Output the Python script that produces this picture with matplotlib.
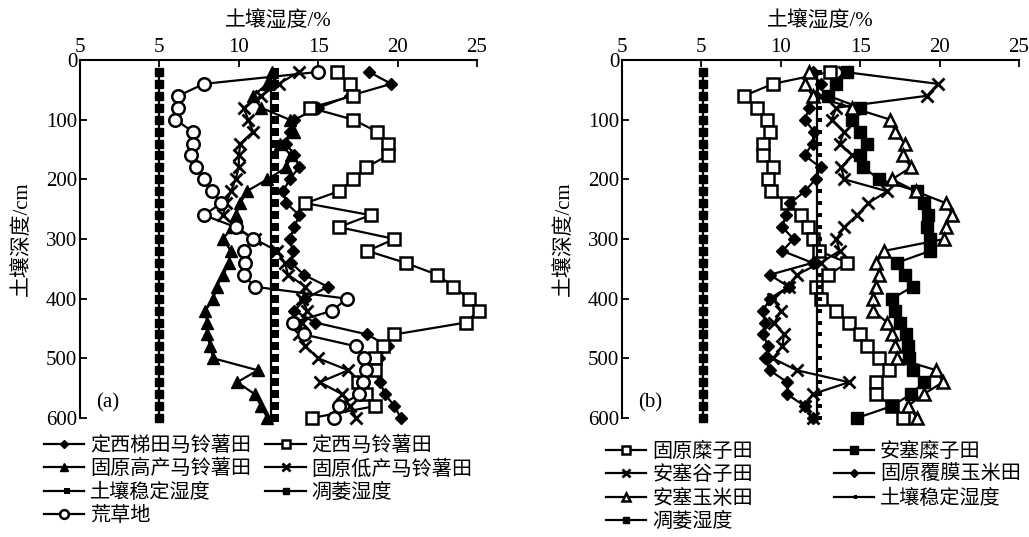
import matplotlib
matplotlib.use("Agg")
import matplotlib.pyplot as plt
from matplotlib.markers import MarkerStyle

plt.rcParams['font.family'] = ['Liberation Serif', 'Noto Sans CJK SC', 'DejaVu Sans']

depth = [20, 40, 60, 80, 100, 120, 140, 160, 180, 200, 220, 240, 260, 280, 300,
         320, 340, 360, 380, 400, 420, 440, 460, 480, 500, 520, 540, 560, 580, 600]

# ---- panel (a) ----
dingxi_terrace = [18.2, 19.6, 17.0, 15.0, 13.5, 13.2, 13.0, 13.5, 13.8, 13.2, 12.8, 13.0, 13.8, 13.5, 13.2,
                  13.4, 13.3, 14.1, 15.6, 14.2, 13.5, 14.8, 18.1, 19.4, 18.8, 18.5, 18.9, 19.2, 19.8, 20.2]
dingxi_potato = [16.2, 17.0, 17.2, 14.5, 17.2, 18.7, 19.4, 19.4, 18.0, 17.2, 16.3, 14.2, 18.3, 16.3, 19.8,
                 18.1, 20.5, 22.5, 23.5, 24.5, 25.1, 24.3, 19.8, 19.1, 18.6, 18.6, 17.5, 18.0, 18.6, 14.6]
guyuan_high = [12.1, 11.8, 10.9, 11.4, 13.2, 13.5, 12.6, 13.3, 13.0, 11.8, 10.5, 10.1, 9.8, 9.6, 9.0,
               9.5, 9.4, 9.0, 8.6, 8.4, 7.9, 8.0, 8.0, 8.2, 8.4, 11.2, 9.9, 11.0, 11.4, 11.8]
guyuan_low = [13.8, 12.5, 11.4, 10.3, 10.6, 10.9, 10.1, 10.0, 10.0, 9.8, 9.5, 9.2, 9.0, 9.8, 11.0,
              12.4, 12.9, 13.1, 14.2, 14.0, 14.3, 14.0, 13.8, 14.2, 15.0, 16.9, 15.1, 16.5, 17.0, 17.4]
grassland = [15.0, 7.8, 6.2, 6.2, 6.0, 7.1, 7.1, 7.0, 7.3, 7.8, 8.3, 8.9, 7.8, 9.8, 10.9,
             10.3, 10.4, 10.3, 11.0, 16.8, 15.9, 13.4, 14.1, 17.4, 17.9, 18.0, 17.8, 17.6, 16.3, 16.0]
stable_a = 12.0
wilting_a = 5.0

# ---- panel (b) ----
guyuan_millet = [13.1, 9.5, 7.7, 8.5, 9.1, 9.3, 8.9, 8.9, 9.5, 9.2, 9.4, 10.4, 11.3, 11.7, 12.0,
                 12.4, 14.2, 13.0, 12.2, 12.5, 13.5, 14.3, 15.0, 15.4, 16.2, 16.8, 16.0, 16.0, 17.0, 17.7]
ansai_millet = [14.2, 13.5, 13.0, 15.0, 14.5, 15.0, 15.4, 15.0, 15.2, 16.2, 18.6, 19.0, 19.3, 19.2, 19.4,
                19.4, 17.3, 17.8, 18.3, 17.0, 17.2, 17.5, 17.9, 18.0, 18.1, 18.3, 19.0, 18.2, 17.0, 14.8]
ansai_foxtail = [14.0, 19.9, 19.2, 13.5, 13.2, 14.0, 13.7, 14.5, 13.8, 14.0, 16.7, 15.5, 14.8, 14.0, 13.5,
                 13.7, 12.5, 11.0, 10.5, 9.5, 10.0, 9.6, 10.2, 10.1, 9.5, 11.0, 14.3, 12.0, 11.5, 12.0]
guyuan_film_corn = [12.0, 12.5, 12.2, 11.8, 11.5, 12.1, 12.0, 11.5, 12.5, 12.2, 11.5, 10.6, 10.3, 10.1, 10.8,
                    10.1, 12.0, 9.3, 10.5, 9.3, 8.9, 9.0, 8.9, 9.2, 9.0, 9.3, 10.4, 10.4, 11.5, 12.0]
ansai_corn = [11.8, 11.5, 12.0, 14.5, 16.9, 17.2, 17.8, 17.7, 18.2, 17.0, 18.5, 20.4, 20.8, 20.4, 20.3,
              16.5, 16.0, 16.2, 16.0, 15.8, 15.8, 16.7, 17.0, 17.2, 17.3, 19.8, 20.2, 19.0, 18.0, 18.6]
stable_b = 12.3
wilting_b = 5.1

xticks = [0, 5, 10, 15, 20, 25]
xtick_labels = ['5', '5', '10', '15', '20', '25']
yticks = [0, 100, 200, 300, 400, 500, 600]

W, H = 1029, 537
fig = plt.figure(figsize=(W / 100, H / 100), dpi=100)

def px_axes(l, t, r, b):
    return fig.add_axes([l / W, 1 - b / H, (r - l) / W, (b - t) / H])

axa = px_axes(80, 60, 477, 418)
axb = px_axes(622, 60, 1019, 418)

cjk = ['Liberation Serif', 'Noto Sans CJK SC']
lw = 1.6
common = dict(color='black', lw=lw, clip_on=False)

# square marker sitting to the right of the line
right_sq = MarkerStyle([(0, -0.45), (1.0, -0.45), (1.0, 0.45), (0, 0.45), (0, -0.45)])

def style(ax, tag):
    ax.set_xlim(0, 25)
    ax.set_ylim(600, 0)
    ax.xaxis.tick_top()
    ax.xaxis.set_label_position('top')
    ax.set_xticks(xticks)
    ax.set_xticklabels(xtick_labels)
    ax.set_yticks(yticks)
    for s in ['right', 'bottom']:
        ax.spines[s].set_visible(False)
    for s in ['left', 'top']:
        ax.spines[s].set_linewidth(1.5)
    ax.tick_params(direction='in', length=5, width=1.3, labelsize=15, pad=2)
    for t in ax.get_xticklabels() + ax.get_yticklabels():
        t.set_fontfamily('Liberation Serif')
    ax.set_xlabel('土壤湿度/%', fontsize=15, family=cjk, labelpad=8)
    ax.set_ylabel('土壤深度/cm', fontsize=15, family=cjk, labelpad=10)
    ax.text(0.04, 0.015, tag, transform=ax.transAxes, fontsize=15,
            family='Liberation Serif', va='bottom', ha='left')

leg_kw = dict(ncol=2, loc='upper left', frameon=False, bbox_transform=fig.transFigure,
              prop={'family': 'Noto Sans CJK SC', 'size': 14.5}, handlelength=2.0,
              handletextpad=0.3, labelspacing=0.12, borderaxespad=0, borderpad=0,
              markerscale=0.7)

# panel (a)
h1, = axa.plot(dingxi_terrace, depth, marker='D', ms=6, mfc='black', label='定西梯田马铃薯田', **common)
h2, = axa.plot(dingxi_potato, depth, marker='s', ms=8, mfc='white', mew=1.8, label='定西马铃薯田', **common)
h3, = axa.plot(guyuan_high, depth, marker='^', ms=8, mfc='black', label='固原高产马铃薯田', **common)
h4, = axa.plot(guyuan_low, depth, marker='x', ms=9, mew=2, label='固原低产马铃薯田', **common)
h5, = axa.plot([stable_a] * len(depth), depth, marker=right_sq, ms=12, mfc='black', mew=0,
               label='土壤稳定湿度', **common)
h6, = axa.plot([wilting_a] * len(depth), depth, marker='s', ms=6, mfc='black', label='凋萎湿度', **common)
h7, = axa.plot(grassland, depth, marker='o', ms=9, mfc='white', mew=1.8, label='荒草地', **common)
style(axa, '(a)')
ha = [h1, h3, h5, h7, h2, h4, h6]
axa.legend(ha, [h.get_label() for h in ha], bbox_to_anchor=(44 / W, 1 - 435 / H),
           columnspacing=0.7, **leg_kw)

# panel (b)
g1, = axb.plot(guyuan_millet, depth, marker='s', ms=8, mfc='white', mew=1.8, label='固原糜子田', **common)
g2, = axb.plot(ansai_millet, depth, marker='s', ms=9, mfc='black', label='安塞糜子田', **common)
g3, = axb.plot(ansai_foxtail, depth, marker='x', ms=9, mew=2, label='安塞谷子田', **common)
g4, = axb.plot(guyuan_film_corn, depth, marker='D', ms=6, mfc='black', label='固原覆膜玉米田', **common)
g5, = axb.plot(ansai_corn, depth, marker='^', ms=8, mfc='white', mew=1.8, label='安塞玉米田', **common)
g6, = axb.plot([stable_b] * len(depth), depth, marker=right_sq, ms=7, mfc='black', mew=0,
               label='土壤稳定湿度', **common)
g7, = axb.plot([wilting_b] * len(depth), depth, marker='s', ms=6, mfc='black', label='凋萎湿度', **common)
style(axb, '(b)')
gb = [g1, g3, g5, g7, g2, g4, g6]
axb.legend(gb, [g.get_label() for g in gb], bbox_to_anchor=(606 / W, 1 - 441 / H),
           columnspacing=4.0, **leg_kw)

fig.savefig('out.png', dpi=100)
